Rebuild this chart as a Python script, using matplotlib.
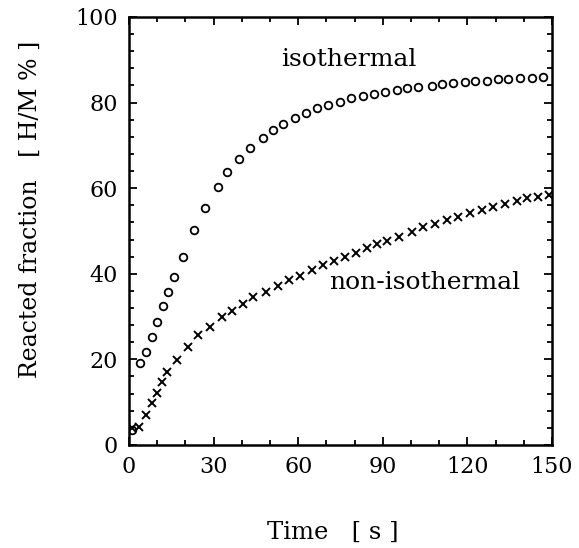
import matplotlib.pyplot as plt
from matplotlib.ticker import MultipleLocator

# isothermal run (circles)
iso_t = [1, 3.9, 6.2, 8.3, 10, 12.2, 14, 16.1, 19.3, 23.1, 27, 31.4, 34.8, 39, 42.9,
         47.4, 51.2, 54.7, 58.9, 62.8, 66.8, 70.7, 74.8, 78.6, 82.9, 86.9, 90.8, 94.9,
         98.5, 102.6, 107.3, 110.9, 115, 119.1, 122.7, 126.8, 131, 134.5, 138.7, 142.8, 146.9]
iso_y = [3.5, 19.2, 21.7, 25.3, 28.8, 32.5, 35.8, 39.2, 44, 50.2, 55.4, 60.2, 63.8, 66.8, 69.4,
         71.7, 73.6, 74.9, 76.5, 77.6, 78.7, 79.4, 80.2, 81, 81.5, 82, 82.5, 82.9,
         83.3, 83.6, 83.9, 84.3, 84.5, 84.7, 85, 85.1, 85.4, 85.5, 85.7, 85.8, 86]

# non-isothermal run (crosses)
non_t = [1, 3.5, 6, 8, 10, 11.6, 13.3, 16.9, 20.8, 24.6, 28.7, 32.9, 36.4, 40.5, 44.1,
         48.5, 52.9, 56.8, 60.6, 64.8, 68.9, 72.7, 76.6, 80.5, 84.3, 87.8, 91.4, 95.9,
         100.2, 104.4, 108.5, 112.7, 116.8, 120.9, 125.1, 129.2, 133.3, 137.5, 141.3, 145.1, 148.8]
non_y = [3.9, 4.3, 7, 9.9, 12.2, 14.8, 17.1, 19.9, 23, 25.7, 27.6, 29.8, 31.4, 32.9, 34.5,
         35.8, 37.1, 38.6, 39.5, 40.9, 42.1, 43.1, 44, 44.9, 46, 47, 47.7, 48.7,
         49.8, 50.9, 51.6, 52.6, 53.3, 54.1, 54.9, 55.5, 56.2, 57, 57.6, 58, 58.4]

fig = plt.figure(figsize=(5.79, 5.48), dpi=100)
ax = fig.add_axes([0.2228, 0.188, 0.7306, 0.781])

ax.plot(iso_t, iso_y, linestyle="none", marker="o", markersize=5.5,
        markerfacecolor="none", markeredgecolor="black", markeredgewidth=1.3)
ax.plot(non_t, non_y, linestyle="none", marker="x", markersize=6,
        color="black", markeredgewidth=1.4)

ax.text(78, 90, "isothermal", fontsize=18, family="DejaVu Serif", ha="center", va="center")
ax.text(105, 38, "non-isothermal", fontsize=18, family="DejaVu Serif", ha="center", va="center")

ax.set_xlim(0, 150)
ax.set_ylim(0, 100)
ax.xaxis.set_major_locator(MultipleLocator(30))
ax.xaxis.set_minor_locator(MultipleLocator(10))
ax.yaxis.set_major_locator(MultipleLocator(20))
ax.yaxis.set_minor_locator(MultipleLocator(4))
ax.tick_params(which="both", direction="in", top=True, right=True, width=1.3)
ax.tick_params(which="major", length=6, labelsize=16, pad=8)
ax.tick_params(which="minor", length=3.5)
for lab in ax.get_xticklabels() + ax.get_yticklabels():
    lab.set_family("DejaVu Serif")
for sp in ax.spines.values():
    sp.set_linewidth(1.8)

ax.set_xlabel("Time   [ s ]", fontsize=17.5, family="DejaVu Serif")
ax.set_ylabel("Reacted fraction   [ H/M % ]", fontsize=17, family="DejaVu Serif")
# label placement (not centred on the axes)
ax.xaxis.set_label_coords(0.482, -0.178)
ax.yaxis.set_label_coords(-0.205, 0.55)

fig.savefig("out.png", dpi=100)
